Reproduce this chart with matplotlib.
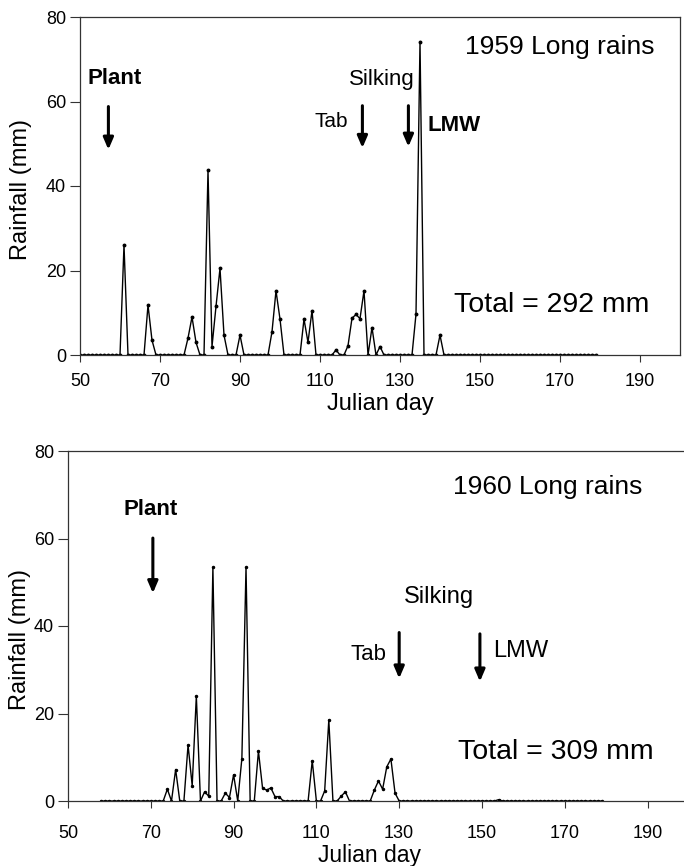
import numpy as np
import matplotlib
matplotlib.use('Agg')
import matplotlib.pyplot as plt

plt.rcParams['font.family'] = ['Liberation Sans', 'DejaVu Sans']

# 1959 long rains: daily record, days 50-179 (rain days listed, other days 0 mm)
days_1959 = list(range(50, 180))
rain_days_1959 = [61, 67, 68, 77, 78, 79, 82, 83, 84, 85, 86, 90, 98, 99, 100,
                  106, 107, 108, 114, 117, 118, 119, 120, 121, 123, 125, 134, 135, 140]
rain_mm_1959 = [26.0, 11.8, 3.5, 4.0, 9.0, 3.0, 43.7, 2.0, 11.5, 20.5, 4.7, 4.7, 5.5, 15.2, 8.5,
                8.5, 3.0, 10.5, 1.2, 2.2, 8.7, 9.6, 8.6, 15.2, 6.5, 2.0, 9.7, 74.2, 4.7]

# 1960 long rains: days 58-179
days_1960 = list(range(58, 180))
rain_days_1960 = [74, 76, 79, 80, 81, 83, 84, 85, 88, 89, 90, 92, 93, 96, 97, 98, 99, 100, 101,
                  109, 112, 113, 116, 117, 124, 125, 126, 127, 128, 129, 154]
rain_mm_1960 = [2.7, 7.2, 12.8, 3.5, 24.0, 2.1, 1.1, 53.4, 1.8, 0.8, 6.0, 9.7, 53.4, 11.4, 2.9, 2.5, 3.0, 1.0, 1.0,
                9.2, 2.3, 18.5, 1.1, 2.1, 2.5, 4.6, 2.7, 7.8, 9.6, 1.8, 0.3]

x_ticks = [50, 70, 90, 110, 130, 150, 170, 190]
y_ticks = [0, 20, 40, 60, 80]


def series(days, rain_days, rain_mm):
    lookup = dict(zip(rain_days, rain_mm))
    return [lookup.get(d, 0.0) for d in days]


def arrow(ax, x, y0, y1):
    ax.annotate('', xy=(x, y1), xytext=(x, y0),
                arrowprops=dict(arrowstyle='-|>,head_length=0.7,head_width=0.3',
                                lw=2.2, color='black', mutation_scale=10, shrinkA=0, shrinkB=0))


def style(ax, xmax, xpad):
    ax.set_xlim(50, xmax)
    ax.set_ylim(0, 80)
    ax.set_xticks(x_ticks)
    ax.set_yticks(y_ticks)
    ax.tick_params(axis='x', length=5, pad=xpad, labelsize=13, color='#333')
    ax.tick_params(axis='y', length=7, pad=3, labelsize=13, color='#333')
    for sp in ax.spines.values():
        sp.set_color('#333')
        sp.set_linewidth(0.9)


fig = plt.figure(figsize=(6.84, 8.66), dpi=100)

# ---- top panel (1959)
ax1 = fig.add_axes([80 / 684, 1 - 355 / 866, 600 / 684, 338 / 866])
ax1.plot(days_1959, series(days_1959, rain_days_1959, rain_mm_1959),
         color='black', lw=1.0, marker='o', ms=1.8)
style(ax1, 200, 8)
ax1.set_xlabel('Julian day', fontsize=17)
ax1.set_ylabel('Rainfall (mm)', fontsize=17)
ax1.xaxis.set_label_coords(0.5, -0.112)
ax1.yaxis.set_label_coords(-0.08, 0.49)

ax1.text(169.9, 73, '1959 Long rains', fontsize=19, ha='center', va='center')
ax1.text(58.6, 65.4, 'Plant', fontsize=16, fontweight='bold', ha='center', va='center')
arrow(ax1, 57.1, 58.8, 48.6)
ax1.text(125.4, 65.2, 'Silking', fontsize=16, ha='center', va='center')
ax1.text(112.7, 55.3, 'Tab', fontsize=15, ha='center', va='center')
arrow(ax1, 120.6, 59, 49)
arrow(ax1, 132.1, 59, 49.3)
ax1.text(143.5, 54.3, 'LMW', fontsize=16, fontweight='bold', ha='center', va='center')
ax1.text(167.9, 11.8, 'Total = 292 mm', fontsize=20.5, ha='center', va='center')

# ---- bottom panel (1960)
ax2 = fig.add_axes([68 / 684, 1 - 801 / 866, 616 / 684, 350 / 866])
ax2.plot(days_1960, series(days_1960, rain_days_1960, rain_mm_1960),
         color='black', lw=1.0, marker='o', ms=1.5)
style(ax2, 198.8, 12)
ax2.spines['right'].set_visible(False)
ax2.set_xlabel('Julian day', fontsize=16.5)
ax2.set_ylabel('Rainfall (mm)', fontsize=17)
ax2.xaxis.set_label_coords(0.49, -0.124)
ax2.yaxis.set_label_coords(-0.06, 0.46)

ax2.text(165.9, 71.8, '1960 Long rains', fontsize=19, ha='center', va='center')
ax2.text(70.0, 66.7, 'Plant', fontsize=16, fontweight='bold', ha='center', va='center')
arrow(ax2, 70.5, 60.1, 47.5)
ax2.text(139.7, 46.6, 'Silking', fontsize=17, ha='center', va='center')
ax2.text(122.7, 33.6, 'Tab', fontsize=16, ha='center', va='center')
arrow(ax2, 130.0, 38.5, 28.0)
arrow(ax2, 149.5, 38.2, 27.3)
ax2.text(159.3, 34.2, 'LMW', fontsize=17, ha='center', va='center')
ax2.text(167.8, 11.1, 'Total = 309 mm', fontsize=20.5, ha='center', va='center')

fig.savefig('out.png', dpi=100)
